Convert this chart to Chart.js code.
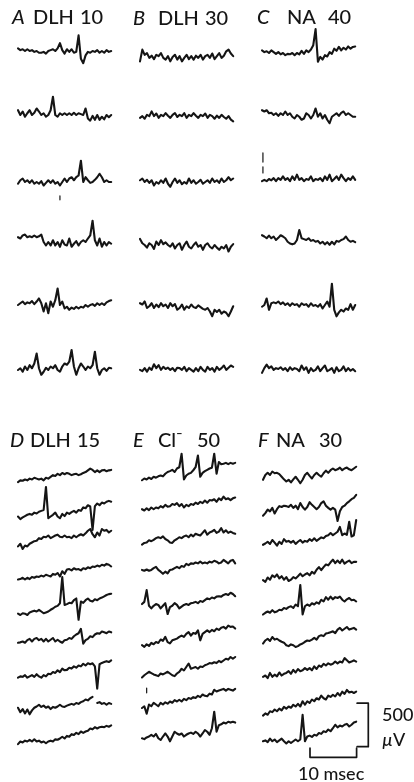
<!DOCTYPE html>
<html>
<head>
<meta charset="utf-8">
<title>DLH, NA and Cl- sweeps</title>
<script src="https://cdn.jsdelivr.net/npm/chart.js@4.4.1/dist/chart.umd.min.js"></script>
<style>
  html, body { margin: 0; padding: 0; background: #fff; }
  #wrap { position: relative; width: 414px; height: 782px; overflow: hidden; }
  #traces { position: absolute; left: 0; top: 0; }
  .lbl { position: absolute; font-family: Lato, "Open Sans", sans-serif; font-weight: 500; line-height: 1; color: #151515; white-space: nowrap; }
  .lbl.it { font-style: italic; }
</style>
</head>
<body>
<div id="wrap"><canvas id="traces" width="414" height="782"></canvas></div>
<script>
// sweeps are sampled every 0.5 ms, 41 samples (20 ms) each, values in µV
const sampleMs = 0.5;

const panelLetters = ["A", "B", "C", "D", "E", "F"];
const panelDrugs = ["DLH", "DLH", "NA", "DLH", "Cl⁻", "NA"];
const panelDoses = ["10", "30", "40", "15", "50", "30"];

const sweepsA = [
  [30,10,20,0,20,0,10,-10,0,-20,-20,-10,-30,0,10,20,0,30,90,10,-30,20,-10,20,-20,-10,180,-90,-140,-50,-10,-20,0,-10,10,-20,0,-20,10,-10,0],
  [55,0,40,-20,20,55,0,25,75,40,0,20,-20,0,55,210,0,-20,20,0,20,0,20,0,25,0,20,10,0,75,-40,-65,-10,-55,0,-55,-20,-50,0,-25,0],
  [-20,20,40,0,20,-10,20,-20,0,-20,10,-40,-10,20,-10,20,-20,0,-40,0,40,0,40,55,20,55,75,245,0,55,20,-10,0,25,55,95,55,0,20,0,0],
  [55,40,75,85,55,65,55,75,55,65,85,0,-40,0,-40,20,-40,0,-55,20,-30,-40,40,-55,-20,10,-40,0,20,0,40,75,245,20,-40,40,-55,0,-40,0,-20],
  [0,20,40,10,30,20,45,10,40,75,20,-75,20,-95,40,-20,55,190,0,40,-40,-20,-55,-30,-45,-20,-40,-20,-30,0,-20,0,10,-10,20,0,20,0,30,45,55],
  [0,20,-20,40,0,55,20,75,190,20,-55,-20,25,0,40,20,55,0,-20,40,75,60,95,230,40,-55,20,75,40,0,40,20,55,210,20,-55,0,20,-10,25,20]
];

const sweepsB = [
  [-50,85,25,45,-10,15,-25,25,10,45,-10,-30,10,-50,0,25,-30,10,-50,-10,25,-25,10,-30,15,-10,25,-30,10,25,-10,40,-25,10,45,-10,15,65,85,40,10],
  [-10,10,-20,25,10,65,10,40,-10,25,10,45,15,-10,25,45,0,25,10,45,-10,25,10,45,15,-10,25,10,40,-10,25,10,-20,15,-10,25,0,-20,10,-30,-50],
  [20,40,0,25,-10,20,-40,0,-20,20,-10,40,-20,-55,0,40,-10,20,-25,0,-20,40,-10,20,-20,0,25,-20,0,20,-10,40,0,20,-10,40,0,20,55,20,40],
  [70,20,0,-30,20,0,-45,40,0,55,10,30,0,-20,20,-40,0,20,-55,0,40,-20,-40,0,30,-20,0,-55,0,20,-20,-40,0,-30,-55,-20,-40,0,-75,-20,10],
  [55,40,75,0,20,55,0,40,10,55,20,40,0,55,20,45,-20,0,40,-20,20,0,40,10,0,30,10,-10,-20,0,-40,-95,-20,-45,-20,-65,-40,-55,-95,-40,20],
  [-10,-25,10,-30,15,-10,55,10,45,-10,25,0,15,-10,10,-25,15,10,-10,25,-25,10,-10,-30,10,-25,25,-10,-30,25,-10,10,-30,25,-10,10,40,-10,15,40,25]
];

const sweepsC = [
  [30,10,20,0,30,10,-10,10,-15,0,-25,-10,-15,0,-25,0,-15,25,-10,30,10,40,90,275,-100,-45,-75,-25,-40,10,-10,50,25,70,30,60,40,75,50,70,75],
  [55,40,55,20,25,0,20,-10,20,0,40,0,20,-20,-40,0,-20,-55,-40,20,0,-40,0,75,-20,20,-40,0,-55,-95,-20,0,20,-10,25,40,0,20,0,-20,-20],
  [-25,-10,-25,0,-15,10,-25,10,-10,30,-10,10,-25,30,-10,50,-10,10,-25,0,-10,30,-25,0,-10,10,-25,30,-10,50,-25,0,30,-10,50,10,-25,10,-10,30,-10],
  [55,40,20,50,20,40,0,25,55,40,20,-20,-40,-50,-40,0,115,20,10,0,20,-10,0,-20,-10,-40,-20,-50,-25,-55,-20,-50,-10,-20,0,10,40,0,-20,-10,-25],
  [-20,0,75,-55,20,30,20,40,10,30,0,20,-10,20,0,10,-20,20,0,10,-20,20,-10,0,-20,10,-40,0,40,-20,245,-55,-130,-85,-55,-75,-40,-55,10,-55,0],
  [-45,10,50,10,30,-10,10,0,20,-10,10,-25,20,-10,10,0,-25,40,-10,20,-45,10,-25,-10,30,-25,10,40,-25,-10,10,-45,20,-25,-10,30,-25,10,-20,0,-25]
];

const sweepsD = [
  [-70,-50,-55,-40,-50,-30,-40,-20,-30,-40,-30,-50,-20,-30,-10,10,0,25,10,35,20,35,25,10,20,25,10,20,35,45,65,85,70,45,65,45,65,70,55,65,70],
  [-75,-105,-85,-70,-55,-45,-55,-30,-40,-20,-10,0,265,-95,-75,-55,-30,-75,-95,-45,-70,-30,-45,-25,-10,-30,0,-10,30,20,55,40,-230,45,75,55,85,75,95,105,95],
  [-85,-55,-115,-75,-85,-55,-40,-25,-20,10,0,25,20,40,10,25,40,50,25,20,40,20,25,10,40,20,40,55,40,65,95,115,55,20,75,40,115,95,105,75,95],
  [-75,-70,-55,-75,-55,-70,-45,-55,-40,-45,-30,-40,-20,-30,-40,-10,-20,0,-40,20,-10,40,45,30,55,40,45,30,55,45,65,55,75,70,85,75,95,85,105,95,75],
  [-100,-115,-95,-100,-115,-85,-75,-65,-75,-55,-75,-95,-85,-75,-55,-40,-20,-10,20,320,0,10,25,20,55,75,-170,40,25,55,75,50,40,65,55,75,85,100,115,125,130],
  [-55,-50,-40,-55,-25,-10,-40,-10,0,-25,-10,-40,-10,-40,-20,0,-40,-20,-40,-55,-25,-20,0,-10,20,40,55,105,-65,-25,-10,20,10,40,55,50,75,65,55,75,65],
  [-100,-85,-90,-70,-100,-85,-70,-90,-60,-85,-100,-70,-85,-55,-60,-35,-45,-15,-35,5,-15,-10,15,5,30,15,40,30,60,40,65,55,65,30,-225,55,70,80,90,80,100],
  [-55,-105,-70,-120,-75,-130,-85,-55,-40,-20,-45,-30,-55,-40,-70,-45,-55,-40,-20,-40,-45,-30,-20,-10,-20,0,-10,10,20,40,30,55,70,null,0,10,-10,0,-20,0,-10],
  [-105,-75,-85,-65,-75,-55,-75,-50,-75,-65,-85,-75,-95,-75,-65,-75,-50,-55,-40,-20,-40,-10,-20,10,0,25,10,40,25,40,50,75,65,90,75,90,95,90,105,95,110]
];

const sweepsE = [
  [-95,-75,-85,-65,-80,-55,-65,-50,-40,-50,-20,0,10,25,0,40,55,210,-85,-40,-20,-10,20,55,190,-55,-10,10,25,40,50,210,-20,115,90,95,105,90,105,95,105],
  [-60,-75,-50,-70,-40,-60,-40,-50,-25,-40,-10,-30,-25,0,-10,10,-25,0,-40,-10,-25,0,-10,15,0,25,10,40,15,45,40,55,25,65,45,85,55,65,45,65,75],
  [-65,-45,-40,-15,-25,-10,10,20,10,30,0,-15,-40,-45,-15,0,20,10,30,40,20,50,30,60,50,40,70,100,50,75,85,105,70,85,125,75,100,70,85,70,60],
  [-45,-55,-40,-55,-45,-25,-10,-45,-65,-90,-65,-85,-45,-40,-25,-10,-25,0,-10,25,10,30,25,40,30,50,30,40,30,50,40,60,50,30,40,70,50,30,60,70,30],
  [-35,-10,125,-55,-85,-55,-35,-45,-85,-55,-25,-150,-70,-55,-25,-45,-85,-65,-45,-35,-45,-25,-20,-10,-25,0,-10,10,30,20,40,30,50,55,50,70,80,70,95,80,55],
  [-105,-125,-95,-115,-80,-95,-70,-80,-40,-55,-10,-70,-85,-50,-40,-30,-10,5,-10,25,45,5,35,25,65,-50,25,45,65,45,70,55,85,70,95,105,85,120,105,110,85],
  [-120,-95,-75,-55,-70,-85,-95,-105,-75,-85,-70,-55,-75,-95,-105,-75,-55,-20,-40,0,40,-20,-10,0,-20,5,0,20,30,45,40,55,45,70,55,75,95,85,115,95,115],
  [-115,-95,-180,-75,-95,-55,-75,-95,-55,-75,-50,-65,-40,-55,-25,-40,-20,-40,-10,-25,0,-10,10,0,25,10,40,25,20,50,40,95,75,85,95,105,85,105,95,85,105],
  [-95,-105,-85,-75,-55,-75,-45,-95,-115,-75,-40,-75,-130,-75,-20,-40,-55,-40,-75,-55,-40,-30,-45,-20,-40,-75,-40,0,-20,-55,20,210,-20,55,65,85,75,95,85,95,85]
];

const sweepsF = [
  [-55,0,25,0,40,20,25,10,-20,-50,-75,-55,-85,-50,-20,-55,-95,-55,0,25,-10,-40,0,25,0,-20,20,50,25,55,75,55,65,85,55,75,85,65,55,75,95],
  [-100,-70,-30,-50,-10,-75,-25,10,0,15,10,0,25,-10,15,-25,45,0,-30,0,55,25,0,-25,0,45,65,15,-10,-30,-10,-30,-160,-50,0,15,45,65,90,105,140],
  [-55,-40,-20,-45,0,-30,-65,-20,-45,10,-20,-10,-30,-10,-45,-20,0,-30,-10,-20,10,-10,20,-10,10,30,20,45,55,80,55,75,95,150,55,75,60,210,40,55,230],
  [-105,-125,-75,-100,-50,-70,-40,-85,-60,-100,-70,-115,-100,-70,-85,-60,-30,-60,-40,-25,-50,-10,-30,15,45,10,45,75,65,100,130,90,120,90,130,85,105,120,90,105,105],
  [-75,-55,-40,-55,-25,-50,-40,-20,-25,0,-10,10,20,0,40,20,265,-75,20,40,25,55,40,65,50,95,75,125,95,130,100,125,115,130,95,75,100,115,90,95,75],
  [-75,-40,-20,-45,0,-30,-20,-40,-55,-65,-95,-105,-85,-95,-115,-105,-85,-75,-55,-40,-45,-30,-10,-30,10,20,10,40,45,55,65,45,85,105,75,95,115,85,95,105,85],
  [-90,-75,-105,-45,-90,-65,-85,-40,-75,-55,-45,-25,-55,-10,-40,0,-25,-15,10,-10,10,-15,30,0,40,25,60,40,65,50,60,85,65,85,75,125,100,75,85,100,85],
  [-145,-120,-135,-95,-105,-75,-95,-65,-85,-45,-65,-40,-55,-20,-40,-10,-40,20,-20,20,0,40,20,55,40,85,55,40,85,70,95,75,115,85,130,105,150,120,130,115,130],
  [-95,-85,-105,-65,-95,-75,-105,-85,-65,-95,-120,-95,-115,-95,-75,-95,-75,210,-95,-40,-30,-45,-20,-30,0,-10,20,10,40,20,55,95,65,85,75,95,105,75,95,120,130]
];

// stray marks on the film beside a sweep: panel, sweep, time (ms), µV levels (null = break)
const strayMarks = [
  { panel: 0, sweep: 2, ms: 9.0, uv: [-160, -205] },
  { panel: 2, sweep: 2, ms: 0.2, uv: [300, 195, null, 140, 70] },
  { panel: 4, sweep: 7, ms: 1.0, uv: [115, 60] }
];

// calibration
const barMs = 10;
const barUv = 500;

// ---- layout (page pixels) ----
const pxPerMs = 4.66;
const pxPerUv = 0.087;
const TITLE_PX = 20;
const CAL_PX = 18;
const ASCENT = 0.887;

const panels = [
  { sweeps: sweepsA, left: 18,  rows: [51, 115, 182, 242, 305, 370], title: { base: 24, x: [12, 33, 80] } },
  { sweeps: sweepsB, left: 140, rows: [57, 117, 182, 245, 308, 369], title: { base: 25, x: [133, 158, 205] } },
  { sweeps: sweepsC, left: 262, rows: [53, 115, 179, 240, 305, 369], title: { base: 24, x: [257, 287, 328] } },
  { sweeps: sweepsD, left: 18,  rows: [476, 510, 539, 573, 605, 638, 669, 703, 735], title: { base: 447, x: [10, 30, 77] } },
  { sweeps: sweepsE, left: 142, rows: [472, 504, 539, 566, 601, 636, 667, 698, 730], title: { base: 447, x: [133, 158, 197] } },
  { sweeps: sweepsF, left: 263, rows: [475, 507, 540, 571, 608, 637, 669, 703, 733], title: { base: 447, x: [258, 276, 319] } }
];

const ink = '#151515';
const wrap = document.getElementById('wrap');

function addLabel(html, x, baseline, size, cls) {
  const el = document.createElement('div');
  el.className = 'lbl' + (cls ? ' ' + cls : '');
  el.innerHTML = html;
  el.style.fontSize = size + 'px';
  el.style.left = x + 'px';
  el.style.top = (baseline - ASCENT * size) + 'px';
  wrap.appendChild(el);
  return el;
}

function line(points, width) {
  return {
    data: points,
    borderColor: ink,
    borderWidth: width || 2.1,
    pointRadius: 0,
    pointHitRadius: 0,
    tension: 0,
    fill: false,
    borderJoinStyle: 'round',
    borderCapStyle: 'round'
  };
}

const datasets = [];

panels.forEach(p => {
  const x0 = p.left / pxPerMs;
  p.sweeps.forEach((sweep, i) => {
    const y0 = -p.rows[i] / pxPerUv;
    datasets.push(line(sweep.map((v, k) => ({ x: x0 + k * sampleMs, y: v === null ? null : y0 + v }))));
  });
});

strayMarks.forEach(m => {
  const p = panels[m.panel];
  const x = p.left / pxPerMs + m.ms;
  const y0 = -p.rows[m.sweep] / pxPerUv;
  datasets.push(line(m.uv.map(v => ({ x: x, y: v === null ? null : y0 + v })), 1.2));
});

// calibration bracket: vertical µV bar with caps pointing left, ms bar with caps pointing up
const uvBarX = 368.3 / pxPerMs;
const uvBarBottom = -746.7 / pxPerUv;
const capMs = 2.4;
datasets.push(line([
  { x: uvBarX - capMs, y: uvBarBottom + barUv },
  { x: uvBarX, y: uvBarBottom + barUv },
  { x: uvBarX, y: uvBarBottom },
  { x: uvBarX - capMs, y: uvBarBottom }
], 1.7));

const msBarLeft = 310 / pxPerMs;
const msBarY = -757.3 / pxPerUv;
const capUv = 105;
datasets.push(line([
  { x: msBarLeft, y: msBarY + capUv },
  { x: msBarLeft, y: msBarY },
  { x: msBarLeft + barMs, y: msBarY },
  { x: msBarLeft + barMs, y: msBarY + capUv }
], 1.7));

new Chart(document.getElementById('traces'), {
  type: 'line',
  data: { datasets: datasets },
  options: {
    responsive: false,
    animation: false,
    devicePixelRatio: 1,
    events: [],
    layout: { padding: 0 },
    plugins: {
      legend: { display: false },
      tooltip: { enabled: false },
      colors: { enabled: false }
    },
    scales: {
      x: { type: 'linear', min: 0, max: 414 / pxPerMs, display: false },
      y: { type: 'linear', min: -782 / pxPerUv, max: 0, display: false }
    }
  }
});

// panel headings
panels.forEach((p, i) => {
  const t = p.title;
  addLabel(panelLetters[i], t.x[0], t.base, TITLE_PX, 'it');
  addLabel(panelDrugs[i], t.x[1], t.base, TITLE_PX);
  addLabel(panelDoses[i], t.x[2], t.base, TITLE_PX);
});

// calibration labels
addLabel(String(barUv), 382, 721, CAL_PX);
addLabel('<i>µ</i>V', 382, 746, CAL_PX);
addLabel(barMs + ' msec', 298, 780, CAL_PX);
</script>
</body>
</html>
